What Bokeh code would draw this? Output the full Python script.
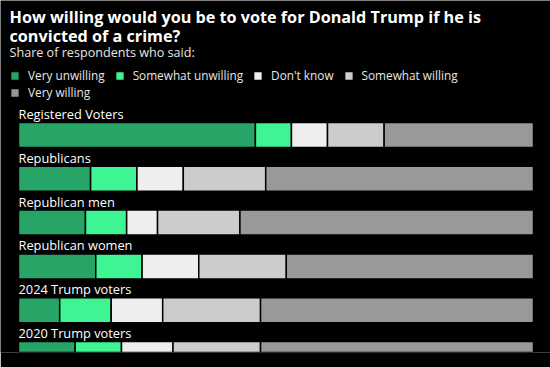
from bokeh.plotting import figure
from bokeh.models import Range1d, Label, Legend, LegendItem, ColumnDataSource
from bokeh.core.properties import value
from bokeh.embed import file_html
from bokeh.resources import INLINE

# ---- data ----
categories = ["Registered Voters", "Republicans", "Republican men",
              "Republican women", "2024 Trump voters", "2020 Trump voters"]
very_unwilling = [46, 14, 13, 15, 8, 11]
somewhat_unwilling = [7, 9, 8, 9, 10, 9]
dont_know = [7, 9, 6, 11, 10, 10]
somewhat_willing = [11, 16, 16, 17, 19, 17]
very_willing = [29, 52, 57, 48, 53, 53]
series_names = ["Very unwilling", "Somewhat unwilling", "Don't know",
                "Somewhat willing", "Very willing"]
colors = ["#27a567", "#3ff593", "#eeeeee", "#cccccc", "#999999"]

title_lines = ["How willing would you be to vote for Donald Trump if he is",
               "convicted of a crime?"]
subtitle = "Share of respondents who said:"

FONT = "Open Sans"

# ---- layout helpers (page px -> data units, text only) ----
ROW_PX = 43.8
TXT = 6  # baseline compensation in px
def dx(page_x):
    return (page_x - 18) * 100 / 515
def dy(page_y):
    return (134.5 - page_y) / ROW_PX

rows = [-i for i in range(len(categories))]
keys = ["vu", "su", "dk", "sw", "vw"]
source = ColumnDataSource(dict(y=rows, cat=categories, vu=very_unwilling,
                               su=somewhat_unwilling, dk=dont_know,
                               sw=somewhat_willing, vw=very_willing))

W, H = 550, 367
BOTTOM = 352
p = figure(width=W, height=H, output_backend="svg", toolbar_location=None, tools="",
           x_range=Range1d(dx(0), dx(W)), y_range=Range1d(dy(BOTTOM), dy(0)),
           x_axis_type=None, y_axis_type=None,
           min_border_left=0, min_border_right=0, min_border_top=0,
           min_border_bottom=H - BOTTOM,
           background_fill_color="black", border_fill_color="black",
           outline_line_color=None)
p.grid.visible = False

renderers = p.hbar_stack(keys, y="y", height=25 / ROW_PX, color=colors,
                         line_color="black", line_width=1.5, source=source)

# category labels
p.text(x=[0] * len(categories), y=[r + (15 + TXT) / ROW_PX for r in rows], text=categories,
       text_font=value(FONT), text_font_size="12.8px", text_color="white",
       text_baseline="alphabetic", text_align="left")

# title + subtitle
p.add_layout(Label(x=dx(9), y=dy(22 - TXT), text=title_lines[0], text_font=FONT,
                   text_font_size="16.2px", text_font_style="bold", text_color="white",
                   text_baseline="alphabetic"))
p.add_layout(Label(x=dx(9), y=dy(41 - TXT), text=title_lines[1], text_font=FONT,
                   text_font_size="16.2px", text_font_style="bold", text_color="white",
                   text_baseline="alphabetic"))
p.add_layout(Label(x=dx(9), y=dy(58 - TXT), text=subtitle, text_font=FONT,
                   text_font_size="12.6px", text_color="#e6e6e6",
                   text_baseline="alphabetic"))

def make_legend(idx, loc):
    items = [LegendItem(label=series_names[i], renderers=[renderers[i]]) for i in idx]
    lg = Legend(items=items, orientation="horizontal", location=loc,
                glyph_width=11, glyph_height=11, label_standoff=8, spacing=9,
                padding=0, margin=0, border_line_color=None,
                background_fill_alpha=0, label_text_color="#e6e6e6",
                label_text_font=FONT, label_text_font_size="11.8px",
                label_height=12, click_policy="none")
    return lg

p.add_layout(make_legend([0, 1, 2, 3], (9, BOTTOM - 83)))
p.add_layout(make_legend([4], (9, BOTTOM - 100)))

open("out.html", "w").write(file_html(p, INLINE))
